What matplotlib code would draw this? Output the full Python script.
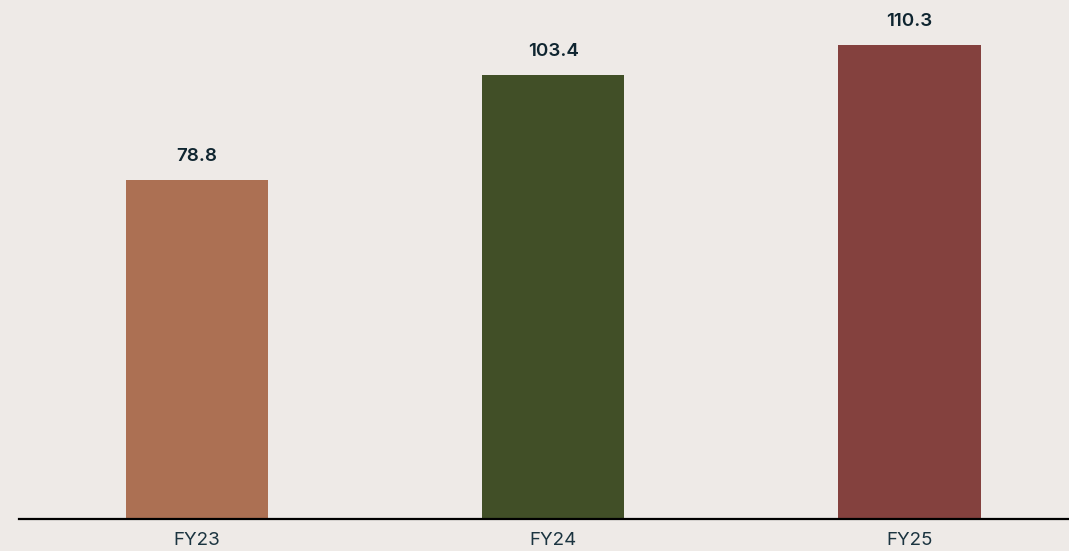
import matplotlib
matplotlib.use("Agg")
import matplotlib.pyplot as plt

categories = ["FY23", "FY24", "FY25"]
values = [78.8, 103.4, 110.3]
labels = ["78.8", "103.4", "110.3"]
colors = ["#AC7053", "#414F27", "#84413E"]

bg = "#EEEAE7"
text_color = "#0F2530"

fig = plt.figure(figsize=(10.69, 5.51), dpi=100, facecolor=bg)
W, H = 1069, 551
ax = fig.add_axes([19 / W, (H - 518.5) / H, (W - 19) / W, 518.5 / H])
ax.set_facecolor(bg)

x = list(range(len(categories)))
ax.bar(x, values, width=0.40, color=colors, zorder=2)
ax.set_xlim(-0.5, 2.448)
ax.set_ylim(0, 518.5 / 4.29)

for xi, v, lab in zip(x, values, labels):
    ax.annotate(lab, (xi, v), xytext=(0, 17), textcoords="offset points",
                ha="center", va="center", fontsize=13.5, fontweight="semibold",
                family="Inter", color=text_color)

for s in ["top", "right", "left"]:
    ax.spines[s].set_visible(False)
ax.spines["bottom"].set_linewidth(1.6)
ax.spines["bottom"].set_color("#000000")
ax.set_yticks([])
ax.set_xticks(x)
ax.set_xticklabels(categories, fontsize=13.5, family="Inter", fontweight="normal", color="#1B3440")
ax.tick_params(axis="x", length=0, pad=10)

fig.savefig("out.png", dpi=100, facecolor=bg)
